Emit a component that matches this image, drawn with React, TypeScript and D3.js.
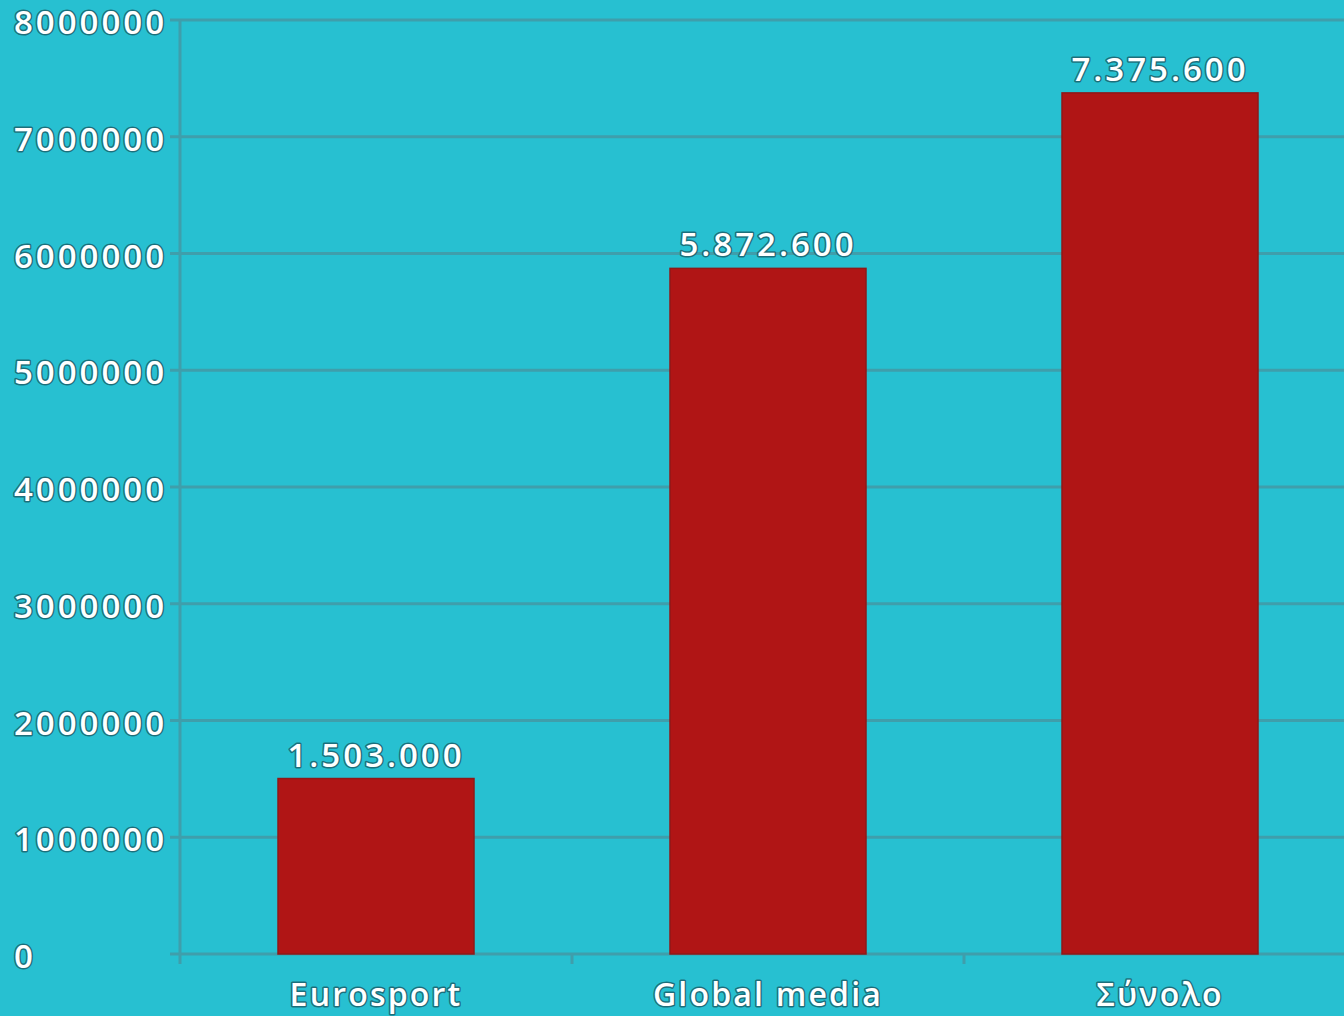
import React from 'react';
import * as d3 from 'd3';

const categories = ['Eurosport', 'Global media', 'Σύνολο'];
const values = [1503000, 5872600, 7375600];
const yTicks = [0, 1000000, 2000000, 3000000, 4000000, 5000000, 6000000, 7000000, 8000000];

const W = 1344;
const H = 1016;
const margin = { top: 20, right: -12, bottom: 62, left: 180 };

const grLocale = d3.formatLocale({ decimal: ',', thousands: '.', grouping: [3], currency: ['', '€'] });
const fmt = grLocale.format(',d');

const textStyle: React.CSSProperties = {
  fontFamily: '"Open Sans", "DejaVu Sans", sans-serif',
  fontWeight: 600,
  fontSize: 32,
  letterSpacing: 2.2,
  fill: '#ffffff',
  stroke: 'rgba(25, 85, 95, 0.75)',
  strokeWidth: 3,
  paintOrder: 'stroke',
  strokeLinejoin: 'round',
};
const numStyle: React.CSSProperties = { ...textStyle, fontSize: 33, letterSpacing: 3 };

export default function App() {
  const innerW = W - margin.left - margin.right;
  const innerH = H - margin.top - margin.bottom;

  const x = d3.scaleBand()
    .domain(categories)
    .range([margin.left, margin.left + innerW])
    .paddingInner(0.5)
    .paddingOuter(0.25);

  const y = d3.scaleLinear()
    .domain([0, 8000000])
    .range([margin.top + innerH, margin.top]);

  const step = x.step();
  const gridColor = '#3f9eab';

  return (
    <svg width={W} height={H} style={{ position: 'absolute', left: 0, top: 0, display: 'block' }}>
      <rect width={W} height={H} fill="#27c0d1" />

      {/* grid + y ticks */}
      {yTicks.map(t => (
        <line key={t} x1={margin.left - 10} x2={W} y1={y(t)} y2={y(t)} stroke={gridColor} strokeWidth={3} />
      ))}
      <line x1={margin.left} x2={margin.left} y1={y(8000000)} y2={y(0)} stroke={gridColor} strokeWidth={3} />

      {/* x ticks at band boundaries */}
      {categories.map(c => (
        <line key={c} x1={(x(c) || 0) - (step - x.bandwidth()) / 2} x2={(x(c) || 0) - (step - x.bandwidth()) / 2}
          y1={y(0)} y2={y(0) + 10} stroke={gridColor} strokeWidth={3} />
      ))}

      {/* bars */}
      {categories.map((c, i) => (
        <rect key={c} x={x(c)} y={y(values[i])} width={x.bandwidth()} height={y(0) - y(values[i])}
          fill="#b01515" stroke="#8f1818" strokeWidth={1.5} />
      ))}

      {/* value labels */}
      {categories.map((c, i) => (
        <text key={c} x={(x(c) || 0) + x.bandwidth() / 2} y={y(values[i]) - 12} textAnchor="middle" style={numStyle}>
          {fmt(values[i])}
        </text>
      ))}

      {/* y labels */}
      {yTicks.map(t => (
        <text key={t} x={14} y={y(t) + 14} textAnchor="start" style={numStyle}>{t}</text>
      ))}

      {/* x labels */}
      {categories.map(c => (
        <text key={c} x={(x(c) || 0) + x.bandwidth() / 2} y={1006} textAnchor="middle" style={textStyle}>{c}</text>
      ))}
    </svg>
  );
}
